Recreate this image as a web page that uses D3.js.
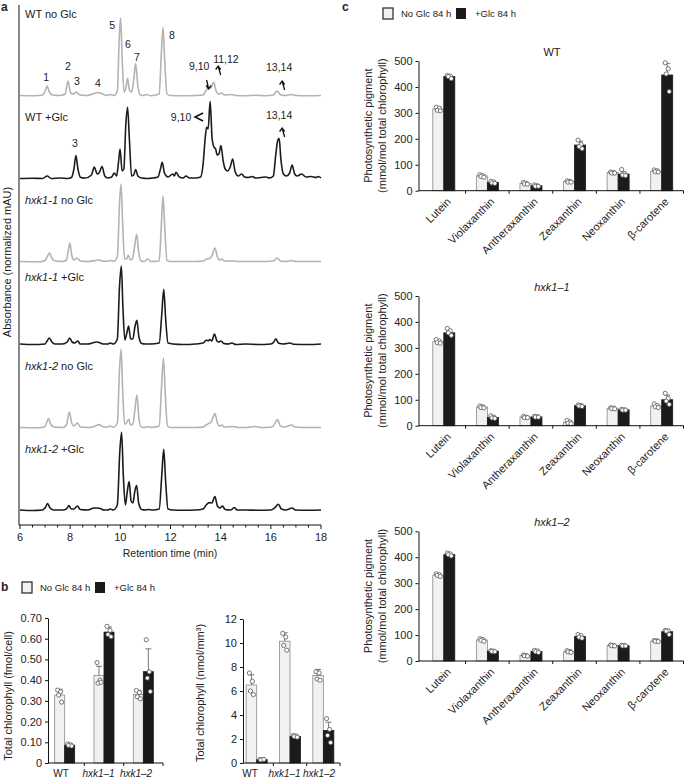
<!DOCTYPE html>
<html><head><meta charset="utf-8">
<script src="https://cdn.jsdelivr.net/npm/d3@7"></script>
<style>
body{margin:0;background:#fff}
svg{display:block}
text{font-family:"Liberation Sans",Arial,Helvetica,sans-serif;fill:#222}
</style>
</head><body>
<svg id="fig" width="685" height="781"></svg>
<script>
// ---------------- DATA ----------------
// Panel a: chromatograms, [retention time (min), normalized absorbance]
const traceLabels = [["WT", " no Glc", false], ["WT", " +Glc", false], ["hxk1-1", " no Glc", true], ["hxk1-1", " +Glc", true], ["hxk1-2", " no Glc", true], ["hxk1-2", " +Glc", true]];
const traceGlc = [false, true, false, true, false, true];
const wtNoGlc = [[6.0,0.5],[6.6,0.3],[6.9,1],[7.0,5],[7.08,10],[7.17,4],[7.3,1],[7.6,0.5],[7.8,2],[7.91,15],[8.02,3],[8.12,2],[8.25,4],[8.38,1],[8.7,0.5],[8.9,2],[9.1,3.5],[9.3,2],[9.45,0.5],[9.6,1.5],[9.75,0.5],[9.88,5],[9.96,60],[10.01,78],[10.07,40],[10.15,4],[10.22,8],[10.29,17.6],[10.36,6],[10.45,4],[10.53,15],[10.61,32.6],[10.69,12],[10.78,1.5],[10.9,0.5],[11.05,1.5],[11.2,0.3],[11.55,2],[11.63,40],[11.7,68.6],[11.77,35],[11.86,2],[12.0,0.5],[12.5,0.3],[13.0,0.5],[13.3,1],[13.4,5],[13.5,7.6],[13.6,8],[13.72,13.6],[13.82,5],[13.92,2],[14.04,3],[14.15,1],[14.45,1.5],[14.6,0.5],[15.0,0.3],[15.4,0.8],[15.8,0.3],[16.1,1],[16.25,5],[16.4,1],[16.6,0.5],[16.8,1.5],[17.0,0.5],[17.5,0.3],[18.0,0.5]];
const wtGlc = [[6.0,0.5],[6.5,0.8],[6.9,0.5],[7.08,3],[7.25,0.5],[7.6,1],[7.9,0.5],[8.05,1.5],[8.15,10],[8.23,23.4],[8.31,10],[8.42,1.5],[8.6,1],[8.85,4],[8.96,12],[9.08,5],[9.15,6],[9.27,12.4],[9.38,3],[9.5,1],[9.65,2],[9.76,6],[9.85,3],[9.92,15],[9.99,30],[10.07,8],[10.14,10],[10.22,55],[10.29,71.7],[10.36,40],[10.45,3],[10.53,4],[10.61,9.4],[10.7,3],[10.85,1],[11.1,0.5],[11.3,1],[11.5,2],[11.6,10],[11.67,16.7],[11.76,6],[11.9,2],[12.09,5],[12.15,3],[12.22,6.7],[12.35,2],[12.5,1],[12.62,3],[12.75,1],[13.0,1],[13.2,2],[13.3,15],[13.38,40],[13.44,51.7],[13.5,50],[13.58,77.7],[13.66,40],[13.73,32],[13.8,30],[13.86,24],[13.93,25],[14.01,33.4],[14.1,18],[14.18,10],[14.28,8],[14.38,12],[14.48,20],[14.57,8],[14.7,3],[14.84,5],[14.95,2],[15.1,1.5],[15.25,2.5],[15.4,1],[15.6,1.5],[15.8,2],[15.95,1],[16.1,3],[16.2,25],[16.27,38],[16.33,40.7],[16.4,20],[16.5,5],[16.62,3],[16.75,6],[16.85,14],[16.95,5],[17.05,3],[17.23,5],[17.4,2],[17.6,2.5],[17.8,1.5],[17.9,2.5],[18.0,1]];
const hxk11NoGlc = [[6.0,0.5],[6.8,0.3],[7.0,1.5],[7.1,6],[7.18,9],[7.27,4],[7.4,1],[7.7,0.5],[7.85,2],[7.93,12],[7.99,19],[8.07,6],[8.15,2],[8.28,4],[8.4,1],[8.7,0.5],[9.0,1.5],[9.15,2],[9.3,1],[9.5,0.8],[9.62,1.5],[9.75,0.8],[9.88,5],[9.97,60],[10.03,78],[10.09,40],[10.17,3],[10.24,3],[10.32,6.6],[10.4,2],[10.48,3],[10.56,14],[10.65,27.6],[10.73,10],[10.82,1],[10.95,0.5],[11.1,3],[11.22,0.5],[11.55,1],[11.63,35],[11.7,66],[11.77,35],[11.86,1.5],[12.0,0.5],[13.0,0.5],[13.3,1],[13.45,3],[13.55,3.5],[13.65,6],[13.77,14],[13.87,5],[13.95,2],[14.04,3],[14.15,1],[14.5,1],[14.7,0.5],[15.5,0.5],[16.1,1],[16.25,4],[16.38,1],[16.6,0.5],[16.8,1.5],[17.0,0.5],[18.0,0.5]];
const hxk11Glc = [[6.0,1],[6.5,0.5],[7.0,1],[7.08,4],[7.17,7],[7.27,3],[7.4,1],[7.7,1],[7.88,3],[7.98,7],[8.08,3],[8.18,2],[8.3,4],[8.4,1],[8.7,1],[8.95,2.5],[9.07,3],[9.2,2],[9.35,1],[9.5,1],[9.6,2],[9.72,1],[9.88,6],[9.97,60],[10.04,79],[10.1,40],[10.18,5],[10.26,12],[10.33,19],[10.41,6],[10.5,6],[10.58,18],[10.66,24.7],[10.74,8],[10.85,1.5],[11.0,1],[11.2,1],[11.55,2],[11.65,30],[11.73,55.7],[11.81,25],[11.9,2],[12.1,1],[12.5,0.5],[13.0,1],[13.3,2],[13.44,5],[13.5,4],[13.57,5.5],[13.65,4],[13.75,11],[13.85,4],[13.92,3],[14.02,4],[14.12,1.5],[14.3,1],[14.45,2],[14.6,0.5],[15.0,1],[15.5,0.5],[16.0,1],[16.12,3],[16.2,6.3],[16.3,2],[16.5,1],[16.77,2],[16.9,0.8],[17.5,0.5],[18.0,1]];
const hxk12NoGlc = [[6.0,0.5],[6.8,0.3],[7.0,1.5],[7.07,6],[7.13,9.4],[7.22,4],[7.35,1],[7.7,0.5],[7.85,3],[7.97,16],[8.06,5],[8.15,2],[8.29,5],[8.4,1],[8.8,0.5],[9.0,2],[9.15,3.4],[9.3,1.5],[9.45,0.8],[9.6,2],[9.72,0.8],[9.88,5],[9.97,60],[10.03,79],[10.09,40],[10.17,4],[10.25,5],[10.33,9],[10.41,3],[10.5,4],[10.58,18],[10.66,33],[10.74,10],[10.83,1],[11.0,0.5],[11.1,1.5],[11.25,0.5],[11.55,2],[11.64,40],[11.72,70],[11.79,35],[11.88,2],[12.0,0.5],[13.0,0.5],[13.3,1],[13.42,3],[13.51,4.4],[13.62,6],[13.77,14.4],[13.87,5],[13.95,2],[14.04,3],[14.15,1],[14.5,1.5],[14.7,0.5],[15.0,0.5],[15.4,1.5],[15.6,0.5],[16.05,1],[16.17,5],[16.27,8.4],[16.38,2],[16.55,1],[16.84,3],[16.95,1],[17.5,0.5],[18.0,0.5]];
const hxk12Glc = [[6.0,1],[6.5,0.5],[6.9,1],[7.02,4],[7.1,7.4],[7.2,3],[7.35,1],[7.7,1],[7.85,2],[7.95,5.4],[8.05,2],[8.15,2],[8.29,5],[8.4,1.5],[8.7,1],[8.95,3],[9.08,3],[9.2,2.5],[9.35,1],[9.5,1],[9.6,2],[9.72,1],[9.88,6],[9.98,60],[10.05,78.7],[10.12,35],[10.2,6],[10.28,20],[10.35,29.4],[10.43,10],[10.5,8],[10.58,20],[10.65,25.4],[10.73,8],[10.85,1.5],[11.0,1],[11.1,1.5],[11.3,1],[11.55,2],[11.65,35],[11.73,61.7],[11.81,28],[11.9,2],[12.1,1],[12.5,0.8],[13.0,1],[13.3,2],[13.42,6],[13.55,8.4],[13.65,8],[13.77,14.4],[13.87,5],[13.97,3],[14.07,5],[14.18,1.5],[14.4,1],[14.55,3.5],[14.65,1],[15.0,1],[15.5,0.8],[16.0,1],[16.15,3],[16.3,6.7],[16.42,2],[16.6,1],[16.86,3],[16.97,1],[17.5,0.8],[18.0,1]];
const traces = [wtNoGlc, wtGlc, hxk11NoGlc, hxk11Glc, hxk12NoGlc, hxk12Glc];
const timeTicks = [6, 8, 10, 12, 14, 16, 18];
// peak annotations: [text, time of label, height above baseline]
const peakLabelsWT = [["1",7.04,19],["2",7.91,30],["3",8.27,15],["4",9.11,13],["5",9.67,71],["6",10.3,52],["7",10.66,39],["8",12.06,61],["9,10",13.14,30],["11,12",14.21,37],["13,14",16.33,29]];
const peakLabelsWTGlc = [["3",8.19,36],["9,10",12.42,62],["13,14",16.33,64]];

// Panel b
const bCats = ["WT", "hxk1\u20131", "hxk1\u20132"];
const cellNo = [0.328, 0.422, 0.331], cellNoErr = [0.028, 0.045, 0.02];
const cellNoPts = [[0.352,0.344,0.328,0.294],[0.485,0.40,0.385,0.39],[0.35,0.34,0.32,0.31]];
const cellGlc = [0.086, 0.632, 0.441], cellGlcErr = [0.006, 0.025, 0.11];
const cellGlcPts = [[0.092,0.088,0.085,0.082],[0.66,0.64,0.62,0.61],[0.595,0.44,0.41,0.345]];
const cellTicks = [0, 0.1, 0.2, 0.3, 0.4, 0.5, 0.6, 0.7];
const volNo = [6.5, 10.15, 7.3], volNoErr = [0.85, 0.7, 0.5];
const volNoPts = [[7.5,6.8,6.0,5.7],[10.8,10.5,9.8,9.4],[7.6,7.5,7.0,6.9]];
const volGlc = [0.28, 2.22, 2.7], volGlcErr = [0.05, 0.1, 0.7];
const volGlcPts = [[0.3,0.28,0.26,0.3],[2.3,2.25,2.2,2.15],[3.7,2.8,2.3,1.7]];
const volTicks = [0, 2, 4, 6, 8, 10, 12];

// Panel c
const pigments = ["Lutein", "Violaxanthin", "Antheraxanthin", "Zeaxanthin", "Neoxanthin", "\u03b2-carotene"];
const pigTicks = [0, 100, 200, 300, 400, 500];
const pigTitles = [["WT", false], ["hxk1\u20131", true], ["hxk1\u20132", true]];
const wtNo = [315, 57, 28, 35, 70, 75], wtNoErr = [8, 5, 4, 4, 4, 6];
const wtGl = [440, 32, 19, 176, 64, 446], wtGlErr = [5, 4, 3, 15, 8, 45];
const wtNoPts = [[322,318,310,308],[62,58,55,52],[32,28,26,25],[38,36,33,33],[72,70,68,68],[80,77,73,72]];
const wtGlPts = [[444,442,440,432],[36,34,30,28],[22,19,17,17],[195,178,170,162],[82,65,60,58],[493,470,450,382]];
const h1No = [324, 72, 33, 12, 67, 76], h1NoErr = [6, 4, 3, 5, 2, 6];
const h1Gl = [358, 32, 34, 77, 61, 100], h1GlErr = [10, 4, 2, 3, 2, 18];
const h1NoPts = [[332,326,320,318],[76,73,70,69],[36,33,31,31],[20,15,10,8],[69,68,66,65],[84,78,73,70]];
const h1GlPts = [[375,366,358,348],[38,33,30,28],[36,35,33,33],[80,78,76,74],[63,61,60,60],[125,105,95,82]];
const h2No = [331, 81, 21, 36, 60, 77], h2NoErr = [4, 5, 2, 3, 2, 2];
const h2Gl = [410, 38, 37, 94, 59, 113], h2GlErr = [5, 2, 4, 6, 2, 8];
const h2NoPts = [[336,333,330,326],[86,83,80,76],[23,21,20,19],[40,37,35,33],[62,60,59,58],[79,78,76,75]];
const h2GlPts = [[416,413,410,405],[40,38,37,36],[41,39,36,33],[102,98,92,88],[61,60,58,58],[118,117,115,102]];

const legendLabels = ["No Glc 84 h", "+Glc 84 h"];

// ---------------- DRAWING ----------------
const svg = d3.select("#fig");
const LIGHT = "#f1f1f1", DARK = "#1b1b1b", GRAY = "#b3b3b3";
const jitter = [-2, 1, -1, 2];

function panelLabel(t, x, y) {
  svg.append("text").attr("x", x).attr("y", y).attr("font-size", 12).attr("font-weight", "bold").text(t);
}

// ===== Panel a =====
panelLabel("a", 1, 11);
const tx = d3.scaleLinear().domain([6, 18]).range([20, 321]);
const amp = d3.scaleLinear().domain([0, 100]).range([0, -100]);
const baseY = d3.scalePoint().domain(d3.range(traces.length)).range([96, 511]);
const line = d3.line().x(d => tx(d[0])).y(d => amp(d[1])).curve(d3.curveMonotoneX);

traces.forEach((tr, i) => {
  const g = svg.append("g").attr("transform", `translate(0,${baseY(i)})`);
  g.append("path").datum(tr).attr("d", line).attr("fill", "none")
    .attr("stroke", traceGlc[i] ? DARK : GRAY).attr("stroke-width", 1.6).attr("stroke-linejoin", "round");
});
const labOff = [82, 62, 62, 68, 62, 62];
traceLabels.forEach((l, i) => {
  const t = svg.append("text").attr("x", 25).attr("y", baseY(i) - labOff[i] + 4).attr("font-size", 11);
  t.append("tspan").attr("font-style", l[2] ? "italic" : "normal").text(l[0]);
  t.append("tspan").text(l[1]);
});
function peakLabels(arr, i) {
  arr.forEach(p => {
    svg.append("text").attr("x", tx(p[1])).attr("y", baseY(i) + amp(p[2]) + 4)
      .attr("text-anchor", "middle").attr("font-size", 10.5).text(p[0]);
  });
}
peakLabels(peakLabelsWT, 0);
peakLabels(peakLabelsWTGlc, 1);
function caretUp(x, y) {
  svg.append("path").attr("d", `M${x-2.5},${y+3.5} L${x},${y} L${x+2.5},${y+3.5} M${x},${y} L${x+2.5},${y+9}`)
    .attr("fill", "none").attr("stroke", "#111").attr("stroke-width", 1.3);
}
function caretDown(x, y) {
  svg.append("path").attr("d", `M${x-2.5},${y-3.5} L${x},${y} L${x+2.5},${y-3.5} M${x},${y} L${x-2},${y-9}`)
    .attr("fill", "none").attr("stroke", "#111").attr("stroke-width", 1.3);
}
caretDown(tx(13.52), baseY(0) + amp(7));
caretUp(tx(13.9), baseY(0) + amp(30));
caretUp(tx(16.45), baseY(0) + amp(15));
svg.append("path").attr("d", `M${tx(12.98)+8},${baseY(1)+amp(66)} L${tx(12.98)},${baseY(1)+amp(62)} L${tx(12.98)+8},${baseY(1)+amp(58)}`)
  .attr("fill", "none").attr("stroke", "#111").attr("stroke-width", 1.6);
caretUp(tx(16.45), baseY(1) + amp(51));

const axA = svg.append("g").attr("transform", "translate(0,525)");
axA.append("line").attr("x1", 19).attr("x2", 321).attr("stroke", "#111");
d3.range(6, 18.01, 0.5).forEach(v => {
  const major = timeTicks.includes(v);
  axA.append("line").attr("x1", tx(v)).attr("x2", tx(v)).attr("y1", 0).attr("y2", major ? 4 : 2.5).attr("stroke", "#111");
});
timeTicks.forEach(v => axA.append("text").attr("x", tx(v)).attr("y", 16).attr("text-anchor", "middle").attr("font-size", 11).text(v));
axA.append("text").attr("x", 170).attr("y", 32).attr("text-anchor", "middle").attr("font-size", 10.5).text("Retention time (min)");
svg.append("line").attr("x1", 19).attr("x2", 19).attr("y1", 5).attr("y2", 525).attr("stroke", "#111");
svg.append("text").attr("transform", "translate(11,262) rotate(-90)").attr("text-anchor", "middle").attr("font-size", 11)
  .text("Absorbance (normalized mAU)");

// ===== shared helpers =====
function legend(x, y) {
  const g = svg.append("g").attr("transform", `translate(${x},${y})`);
  g.append("rect").attr("x", 0).attr("y", 0).attr("width", 10).attr("height", 11).attr("fill", LIGHT).attr("stroke", "#333").attr("stroke-width", 1.3);
  g.append("text").attr("x", 18).attr("y", 9).attr("font-size", 9.5).text(legendLabels[0]);
  g.append("rect").attr("x", 73).attr("y", 0).attr("width", 10).attr("height", 11).attr("fill", DARK);
  g.append("text").attr("x", 92).attr("y", 9).attr("font-size", 9.5).text(legendLabels[1]);
}

function barChart(opt) {
  const { cats, no, noErr, noPts, gl, glErr, glPts, ticks, fmt, x0, x1, y0, y1, range, barW } = opt;
  const y = d3.scaleLinear().domain([ticks[0], ticks[ticks.length - 1]]).range([y0, y1]);
  const xb = d3.scaleBand().domain(cats).range(range);
  const g = svg.append("g");
  const sub = d3.scaleBand().domain(["no", "gl"]).range([-barW, barW]);
  const series = [["no", no, noErr, noPts, LIGHT], ["gl", gl, glErr, glPts, DARK]];
  series.forEach(([k, vals, errs, pts, fill]) => {
    cats.forEach((c, i) => {
      const cx = xb(c) + xb.bandwidth() / 2 + sub(k);
      g.append("rect").attr("x", cx).attr("y", y(vals[i])).attr("width", sub.bandwidth()).attr("height", y(0) - y(vals[i]))
        .attr("fill", fill).attr("stroke", k === "no" ? "#8a8a8a" : DARK).attr("stroke-width", 0.8);
      const mx = cx + sub.bandwidth() / 2;
      g.append("line").attr("x1", mx).attr("x2", mx).attr("y1", y(vals[i])).attr("y2", y(vals[i] + errs[i])).attr("stroke", "#555").attr("stroke-width", 0.8);
      g.append("line").attr("x1", mx - 3).attr("x2", mx + 3).attr("y1", y(vals[i] + errs[i])).attr("y2", y(vals[i] + errs[i])).attr("stroke", "#555").attr("stroke-width", 0.8);
      pts[i].forEach((p, j) => {
        g.append("circle").attr("cx", mx + jitter[j]).attr("cy", y(p)).attr("r", 2.1)
          .attr("fill", "#fff").attr("stroke", "#555").attr("stroke-width", 0.8);
      });
    });
  });
  const ya = g.append("g").attr("transform", `translate(${x0},0)`)
    .call(d3.axisLeft(y).tickValues(ticks).tickFormat(fmt).tickSize(3).tickSizeOuter(0));
  ya.selectAll("text").attr("font-size", 11).attr("font-family", '"Liberation Sans",Arial,sans-serif').attr("fill", "#222");
  ya.selectAll("line,path").attr("stroke", "#111");
  g.append("line").attr("x1", x0).attr("x2", x1).attr("y1", y0).attr("y2", y0).attr("stroke", "#111");
  cats.forEach((c, i) => {
    if (i > 0) g.append("line").attr("x1", xb(c)).attr("x2", xb(c)).attr("y1", y0).attr("y2", y0 + 3).attr("stroke", "#111");
  });
  g.append("line").attr("x1", x1).attr("x2", x1).attr("y1", y0).attr("y2", y0 + 3).attr("stroke", "#111");
  return { y, xb, g };
}

// ===== Panel b =====
panelLabel("b", 1, 591);
legend(22, 582);
const bl = barChart({ cats: bCats, no: cellNo, noErr: cellNoErr, noPts: cellNoPts, gl: cellGlc, glErr: cellGlcErr, glPts: cellGlcPts,
  ticks: cellTicks, fmt: d => d === 0 ? "0" : d.toFixed(2), x0: 48, x1: 163, y0: 763, y1: 618, range: [45, 163], barW: 10 });
const br = barChart({ cats: bCats, no: volNo, noErr: volNoErr, noPts: volNoPts, gl: volGlc, glErr: volGlcErr, glPts: volGlcPts,
  ticks: volTicks, fmt: d => d, x0: 243, x1: 340, y0: 763, y1: 619, range: [240, 340], barW: 10.5 });
// category label positions
const labL = d3.scalePoint().domain(bCats).range([61, 136]);
const labR = d3.scalePoint().domain(bCats).range([250, 319]);
[[bl, labL], [br, labR]].forEach(([ch, sc]) => {
  bCats.forEach((c, i) => {
    ch.g.append("text").attr("x", sc(c)).attr("y", 777).attr("text-anchor", "middle")
      .attr("font-size", 10).attr("font-style", i === 0 ? "normal" : "italic").text(c);
  });
});
svg.append("text").attr("transform", "translate(12,696) rotate(-90)").attr("text-anchor", "middle").attr("font-size", 11)
  .text("Total chlorophyll (fmol/cell)");
svg.append("text").attr("transform", "translate(204,693) rotate(-90)").attr("text-anchor", "middle").attr("font-size", 11)
  .text("Total chlorophyll (nmol/mm\u00b3)");

// ===== Panel c =====
panelLabel("c", 342, 11);
legend(383, 8);
const cSets = [[wtNo, wtNoErr, wtNoPts, wtGl, wtGlErr, wtGlPts], [h1No, h1NoErr, h1NoPts, h1Gl, h1GlErr, h1GlPts], [h2No, h2NoErr, h2NoPts, h2Gl, h2GlErr, h2GlPts]];
const zeros = [190.7, 425.7, 661];
cSets.forEach((s, k) => {
  const z = zeros[k];
  const ch = barChart({ cats: pigments, no: s[0], noErr: s[1], noPts: s[2], gl: s[3], glErr: s[4], glPts: s[5],
    ticks: pigTicks, fmt: d => d, x0: 418.5, x1: 683.5, y0: z, y1: z - 129.7, range: [422, 683.5], barW: 11 });
  pigments.forEach(p => {
    ch.g.append("text").attr("transform", `translate(${ch.xb(p) + ch.xb.bandwidth() / 2 + 5},${z + 9}) rotate(-45)`)
      .attr("text-anchor", "end").attr("dy", "0.35em").attr("font-size", 11).text(p);
  });
  ch.g.append("text").attr("x", 552).attr("y", z - 135).attr("text-anchor", "middle").attr("font-size", 11)
    .attr("font-style", pigTitles[k][1] ? "italic" : "normal").text(pigTitles[k][0]);
  ch.g.append("text").attr("transform", `translate(372,${z - 65}) rotate(-90)`).attr("text-anchor", "middle").attr("font-size", 11)
    .text("Photosynthetic pigment");
  ch.g.append("text").attr("transform", `translate(386,${z - 65}) rotate(-90)`).attr("text-anchor", "middle").attr("font-size", 11)
    .text("(mmol/mol total chlorophyll)");
});
</script>
</body></html>
